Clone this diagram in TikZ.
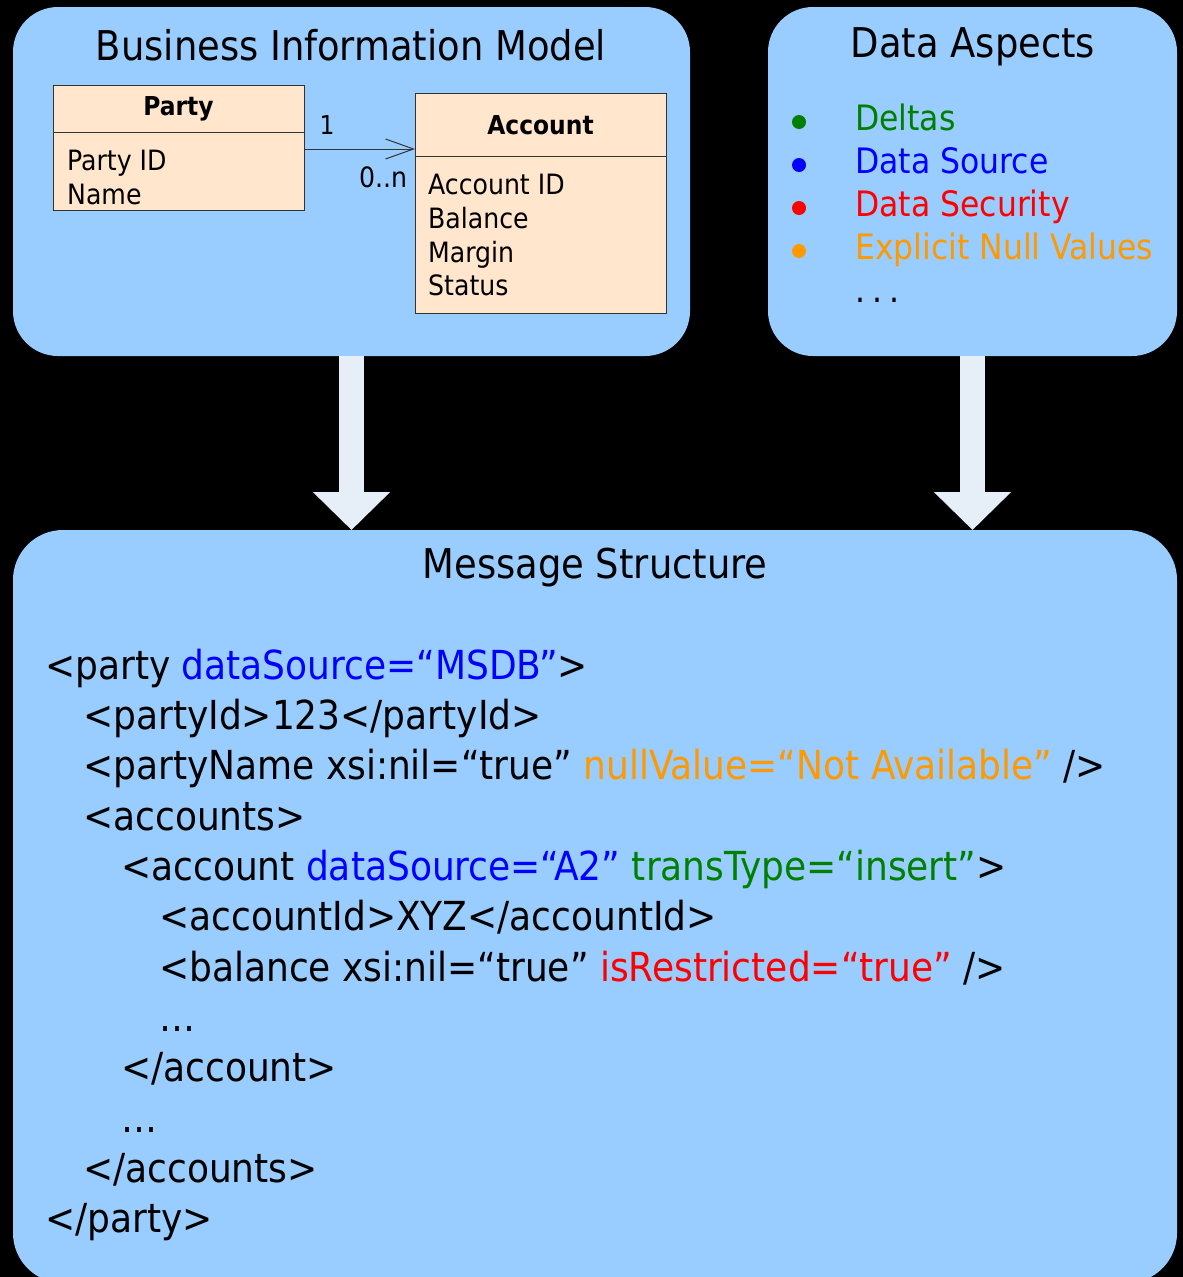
\documentclass[tikz,border=0pt]{standalone}
\usepackage{fontspec}
\setmainfont{DejaVu Sans Condensed}
\usetikzlibrary{arrows.meta}
\definecolor{boxblue}{HTML}{99CCFF}
\definecolor{umlfill}{HTML}{FFE6CC}
\definecolor{arrowfill}{HTML}{E6EEF8}
\definecolor{xgreen}{HTML}{008000}
\definecolor{xblue}{HTML}{0000FF}
\definecolor{xred}{HTML}{FF0000}
\definecolor{xorange}{HTML}{FF9900}
\begin{document}
\begin{tikzpicture}[x=1pt,y=-1pt,
  panel/.style={fill=boxblue,draw=none,rounded corners=45pt,inner sep=0pt,outer sep=0pt},
  umlbox/.style={fill=umlfill,draw=black!80,line width=1pt,inner sep=0pt,outer sep=0pt},
  title/.style={font=\fontsize{41}{44}\selectfont,text=black,inner sep=0pt},
  umltext/.style={font=\fontsize{28}{32}\selectfont,anchor=mid west,inner sep=0pt},
  umlhead/.style={font=\fontsize{26}{30}\selectfont\bfseries,inner sep=0pt},
  aspect/.style={font=\fontsize{35}{38}\selectfont,anchor=mid west,inner sep=0pt},
  xml/.style={font=\fontsize{40}{44}\selectfont,anchor=mid west,inner sep=0pt},
  bigarrow/.style={draw=arrowfill,line width=25pt,-{Triangle[width=75pt,length=38pt,fill=arrowfill]}},
  dot/.style={circle,inner sep=0pt,minimum size=14pt}
]
\fill[black] (0,0) rectangle (1183,1277);
\useasboundingbox (0,0) rectangle (1183,1277);

% panels
\node[panel,minimum width=677pt,minimum height=349pt] (bim) at (351.5,181.5) {};
\node[panel,minimum width=409pt,minimum height=349pt] (asp) at (972.5,181.5) {};
\node[panel,rounded corners=50pt,minimum width=1164pt,minimum height=753pt] (msg) at (595,906.5) {};

% titles
\node[title] (bimtitle) at (351,45) {Business Information Model};
\node[title] (asptitle) at (973,47) {Data Aspects};
\node[title] (msgtitle) at (595,568) {Message Structure};

% UML classes
\node[umlbox,minimum width=251pt,minimum height=125pt] (party) at (178.5,147.5) {};
\draw[black!80,line width=1pt] (53,132) -- (304,132);
\node[umlhead] (partyname) at (178.5,109) {Party};
\node[umltext] (pid) at (67,168) {Party ID};
\node[umltext] (pname) at (67,202) {Name};

\node[umlbox,minimum width=251pt,minimum height=220pt] (account) at (540.5,203) {};
\draw[black!80,line width=1pt] (415,156) -- (666,156);
\node[umlhead] (accname) at (540.5,125) {Account};
\node[umltext] (aid) at (428,192) {Account ID};
\node[umltext] (abal) at (428,226) {Balance};
\node[umltext] (amar) at (428,260) {Margin};
\node[umltext] (asta) at (428,293) {Status};

\coordinate (assocstart) at (304,149);
\coordinate (assocend) at (415,149);
\draw[line width=1pt,black!80,-{Straight Barb[length=28pt,width=20pt,line width=1pt]}] (assocstart) -- (assocend);
\node[font=\fontsize{26}{30}\selectfont,inner sep=0pt] (one) at (327,125) {1};
\node[font=\fontsize{28}{30}\selectfont,inner sep=0pt] (many) at (383,177) {0..n};

% Data aspects list
\node[dot,fill=xgreen] (b1) at (799,122) {};
\node[dot,fill=xblue] (b2) at (799,165) {};
\node[dot,fill=xred] (b3) at (799,208) {};
\node[dot,fill=xorange] (b4) at (799,251) {};
\node[aspect,text=xgreen] (a1) at (855,128) {Deltas};
\node[aspect,text=xblue] (a2) at (855,171) {Data Source};
\node[aspect,text=xred] (a3) at (855,214) {Data Security};
\node[aspect,text=xorange] (a4) at (855,257) {Explicit Null Values};
\node[aspect] (a5) at (855,300) {.\hspace{0.2em}.\hspace{0.2em}.};

% big arrows
\draw[bigarrow] (bim.south) -- (bim.south |- msg.north);
\draw[bigarrow] (asp.south) -- (asp.south |- msg.north);

% XML
\node[xml] (l1) at (45,677) {<party \textcolor{xblue}{dataSource=“MSDB”}>};
\node[xml] (l2) at (83,727) {<partyId>123</partyId>};
\node[xml] (l3) at (83,777) {<partyName xsi:nil=“true” \textcolor{xorange}{nullValue=“Not Available”} />};
\node[xml] (l4) at (83,828) {<accounts>};
\node[xml] (l5) at (121,878) {<account \textcolor{xblue}{dataSource=“A2”} \textcolor{xgreen}{transType=“insert”}>};
\node[xml] (l6) at (159,928) {<accountId>XYZ</accountId>};
\node[xml] (l7) at (159,979) {<balance xsi:nil=“true” \textcolor{xred}{isRestricted=“true”} />};
\node[xml] (l8) at (159,1029) {…};
\node[xml] (l9) at (121,1079) {</account>};
\node[xml] (l10) at (121,1130) {…};
\node[xml] (l11) at (83,1180) {</accounts>};
\node[xml] (l12) at (45,1230) {</party>};
\end{tikzpicture}
\end{document}
